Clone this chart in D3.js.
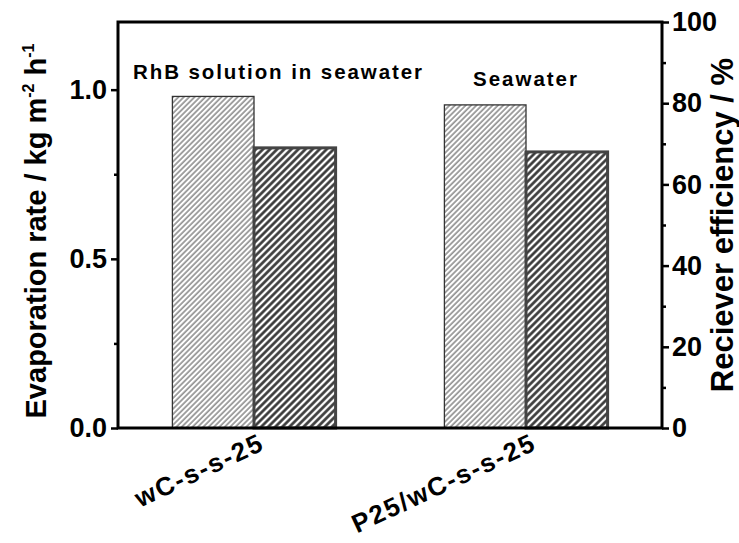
<!DOCTYPE html>
<html>
<head>
<meta charset="utf-8">
<script src="https://cdn.jsdelivr.net/npm/d3@7"></script>
<style>
  body { margin: 0; background: #fff; }
  text { font-family: Arial, "Liberation Sans", sans-serif; font-weight: bold; }
</style>
</head>
<body>
<svg width="739" height="543"></svg>
<script>
let samples = ["wC-s-s-25", "P25/wC-s-s-25"];
let series = ["evap", "eff"];
let evapRate = [0.98, 0.955];      // kg m-2 h-1, left axis
let efficiency = [69.0, 68.0];     // %, right axis
let notes = ["RhB solution in seawater", "Seawater"];
let leftTicks = [0.0, 0.5, 1.0];
let leftMinor = [0.25, 0.75];
let rightTicks = [0, 20, 40, 60, 80, 100];
let rightMinor = [10, 30, 50, 70, 90];

let svg = d3.select("svg");
let plotL = 118, plotR = 662, plotT = 22, plotB = 428;

let x = d3.scaleBand().domain(samples).range([plotL, plotR]).paddingInner(0.4).paddingOuter(0.2);
let xs = d3.scaleBand().domain(series).range([0, x.bandwidth()]);
let yL = d3.scaleLinear().domain([0, 1.2]).range([plotB, plotT]);
let yR = d3.scaleLinear().domain([0, 100]).range([plotB, plotT]);

// hatch patterns
let defs = svg.append("defs");
defs.append("pattern")
  .attr("id", "hatchLight").attr("patternUnits", "userSpaceOnUse")
  .attr("width", 3.8).attr("height", 3.8)
  .attr("patternTransform", "rotate(45)")
  .append("line").attr("x1", 1).attr("x2", 1).attr("y1", 0).attr("y2", 3.8)
  .attr("stroke", "#333").attr("stroke-width", 0.9);
defs.append("pattern")
  .attr("id", "hatchDark").attr("patternUnits", "userSpaceOnUse")
  .attr("width", 5).attr("height", 5)
  .attr("patternTransform", "rotate(45)")
  .append("line").attr("x1", 1.5).attr("x2", 1.5).attr("y1", 0).attr("y2", 5)
  .attr("stroke", "#333").attr("stroke-width", 2.6);

let rows = samples.map((s, i) => ({sample: s, evap: evapRate[i], eff: efficiency[i], note: notes[i]}));

let g = svg.append("g");
g.selectAll("rect.evap")
  .data(rows)
  .enter().append("rect")
  .attr("class", "evap")
  .attr("x", d => x(d.sample) + xs("evap"))
  .attr("y", d => yL(d.evap))
  .attr("width", xs.bandwidth())
  .attr("height", d => plotB - yL(d.evap))
  .attr("fill", "url(#hatchLight)")
  .attr("stroke", "#333").attr("stroke-width", 1.3);

g.selectAll("rect.eff")
  .data(rows)
  .enter().append("rect")
  .attr("class", "eff")
  .attr("x", d => x(d.sample) + xs("eff"))
  .attr("y", d => yR(d.eff))
  .attr("width", xs.bandwidth())
  .attr("height", d => plotB - yR(d.eff))
  .attr("fill", "url(#hatchDark)")
  .attr("stroke", "#444").attr("stroke-width", 3);

// annotations
svg.append("text").attr("x", 133).attr("y", 79)
  .attr("font-size", 20.5).attr("textLength", 289).attr("lengthAdjust", "spacing")
  .text(notes[0]);
svg.append("text").attr("x", 473).attr("y", 86)
  .attr("font-size", 20.5).attr("textLength", 104).attr("lengthAdjust", "spacing")
  .text(notes[1]);

// axes
let axL = d3.axisLeft(yL).tickValues(leftTicks).tickFormat(d3.format(".1f")).tickSize(7).tickSizeOuter(0);
let axLm = d3.axisLeft(yL).tickValues(leftMinor).tickFormat("").tickSize(4).tickSizeOuter(0);
let axR = d3.axisRight(yR).tickValues(rightTicks).tickFormat(d3.format("d")).tickSize(7).tickSizeOuter(0);
let axRm = d3.axisRight(yR).tickValues(rightMinor).tickFormat("").tickSize(4).tickSizeOuter(0);

function style(sel) {
  sel.select(".domain").remove();
  sel.selectAll("line").attr("stroke", "#000").attr("stroke-width", 2.5);
  sel.selectAll("text").attr("font-size", 27).attr("fill", "#000");
}
svg.append("g").attr("transform", `translate(${plotL},0)`).call(axL).call(style)
  .selectAll("text").attr("dx", "-1");
svg.append("g").attr("transform", `translate(${plotL},0)`).call(axLm).call(style);
svg.append("g").attr("transform", `translate(${plotR},0)`).call(axR).call(style)
  .selectAll("text").attr("dx", "0");
svg.append("g").attr("transform", `translate(${plotR},0)`).call(axRm).call(style);

// frame
svg.append("rect").attr("x", plotL).attr("y", plotT)
  .attr("width", plotR - plotL).attr("height", plotB - plotT)
  .attr("fill", "none").attr("stroke", "#000").attr("stroke-width", 3);

// category labels
svg.selectAll("text.cat")
  .data(samples)
  .enter().append("text")
  .attr("class", "cat")
  .attr("text-anchor", "end")
  .attr("font-size", 26)
  .attr("letter-spacing", 1.8)
  .attr("transform", d => `translate(${x(d) + x.bandwidth() / 2 + 12},449) rotate(-25)`)
  .text(d => d);

// axis titles
let tl = svg.append("text")
  .attr("transform", `translate(46,${(plotT + plotB) / 2 + 6}) rotate(-90)`)
  .attr("text-anchor", "middle").attr("font-size", 29);
tl.append("tspan").text("Evaporation rate / kg m");
tl.append("tspan").attr("dy", -12).attr("font-size", 16).text("-2");
tl.append("tspan").attr("dy", 12).text(" h");
tl.append("tspan").attr("dy", -12).attr("font-size", 16).text("-1");

svg.append("text")
  .attr("transform", `translate(733,${(plotT + plotB) / 2 + 0}) rotate(-90)`)
  .attr("text-anchor", "middle").attr("font-size", 31)
  .text("Reciever efficiency / %");
</script>
</body>
</html>
